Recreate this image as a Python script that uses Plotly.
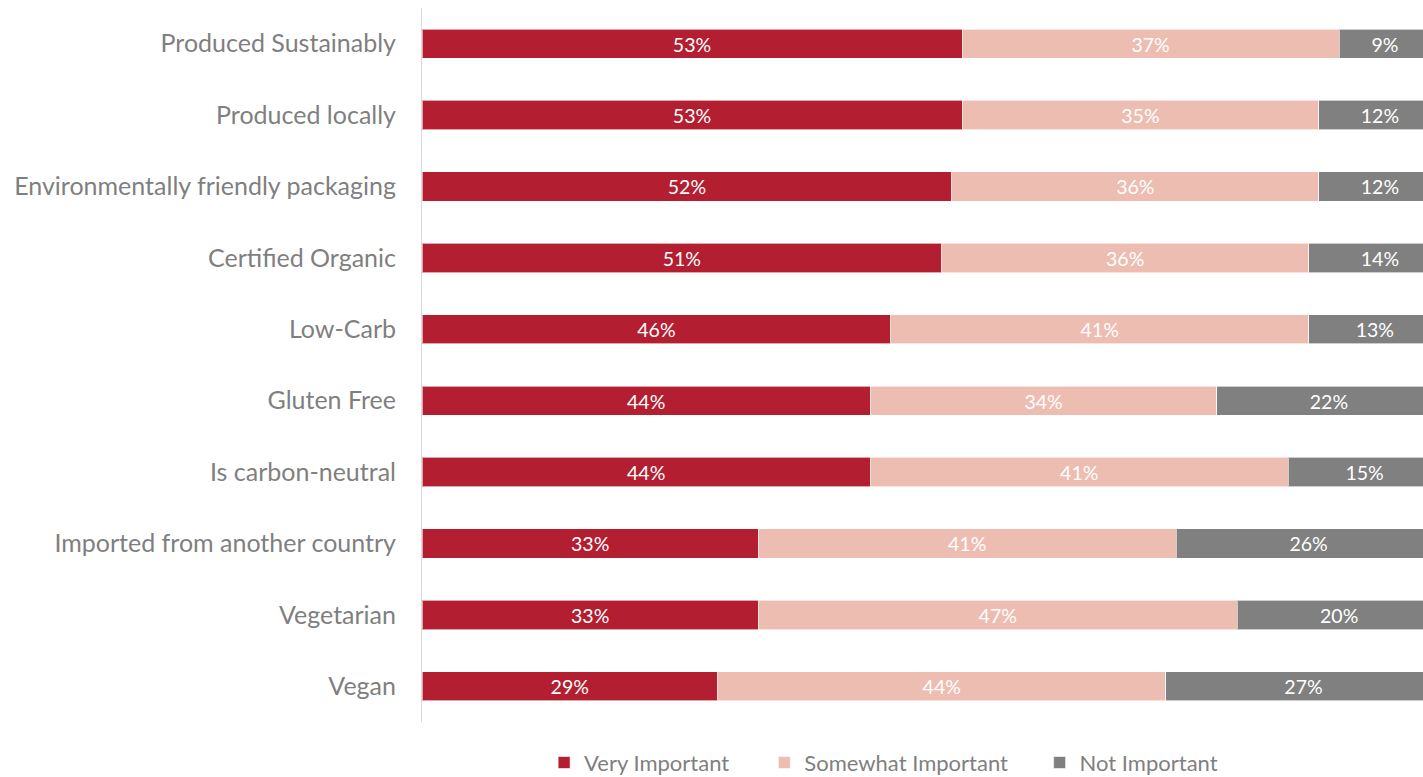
import plotly.graph_objects as go

# Survey attributes, top to bottom
attributes = [
    "Produced Sustainably",
    "Produced locally",
    "Environmentally friendly packaging",
    "Certified Organic",
    "Low-Carb",
    "Gluten Free",
    "Is carbon-neutral",
    "Imported from another country",
    "Vegetarian",
    "Vegan",
]

# Share of respondents (%) per rating
very_important = [53, 53, 52, 51, 46, 44, 44, 33, 33, 29]
somewhat_important = [37, 35, 36, 36, 41, 34, 41, 41, 47, 44]
not_important = [9, 12, 12, 14, 13, 22, 15, 26, 20, 27]

series = [
    ("Very Important", very_important, "#B31E31", "legend", 0.122),
    ("Somewhat Important", somewhat_important, "#EDBDB2", "legend2", 0.342),
    ("Not Important", not_important, "#808080", "legend3", 0.617),
]

FONT = "Lato, Carlito, Calibri, 'Open Sans', sans-serif"
LEGEND_Y = -0.057

fig = go.Figure()
legend_layouts = {}
for name, values, color, legend_id, legend_x in series:
    fig.add_trace(go.Bar(
        name=name,
        y=attributes,
        x=values,
        orientation="h",
        legend=legend_id,
        showlegend=True,
        marker=dict(color=color, line=dict(color="rgba(255,255,255,0.6)", width=1)),
        text=[f"{v}%" for v in values],
        textposition="inside",
        insidetextanchor="middle",
        textangle=0,
        textfont=dict(color="white", size=21, family=FONT),
        hovertemplate="%{y}: %{x}%<extra>" + name + "</extra>",
    ))
    legend_layouts[legend_id] = dict(
        orientation="h",
        x=legend_x,
        xanchor="left",
        y=LEGEND_Y,
        yanchor="middle",
        font=dict(size=22, color="#7F7F7F", family=FONT),
        itemwidth=30,
        bgcolor="rgba(0,0,0,0)",
    )

fig.update_layout(
    width=1423,
    height=777,
    showlegend=True,
    barmode="stack",
    bargap=0.59,
    plot_bgcolor="white",
    paper_bgcolor="white",
    margin=dict(l=422, r=0, t=8, b=55, autoexpand=False),
    font=dict(family=FONT, color="#7F7F7F"),
    uniformtext=dict(mode="show", minsize=10),
    xaxis=dict(
        range=[0, 98.23],
        showgrid=False,
        zeroline=False,
        showticklabels=False,
        fixedrange=True,
    ),
    yaxis=dict(
        categoryorder="array",
        categoryarray=attributes,
        autorange="reversed",
        showline=True,
        linecolor="#D9D9D9",
        linewidth=1,
        showgrid=False,
        ticks="",
        ticklabelstandoff=20,
        tickfont=dict(size=25, color="#7F7F7F", family=FONT),
    ),
    **legend_layouts,
)

fig.write_html("out.html")
